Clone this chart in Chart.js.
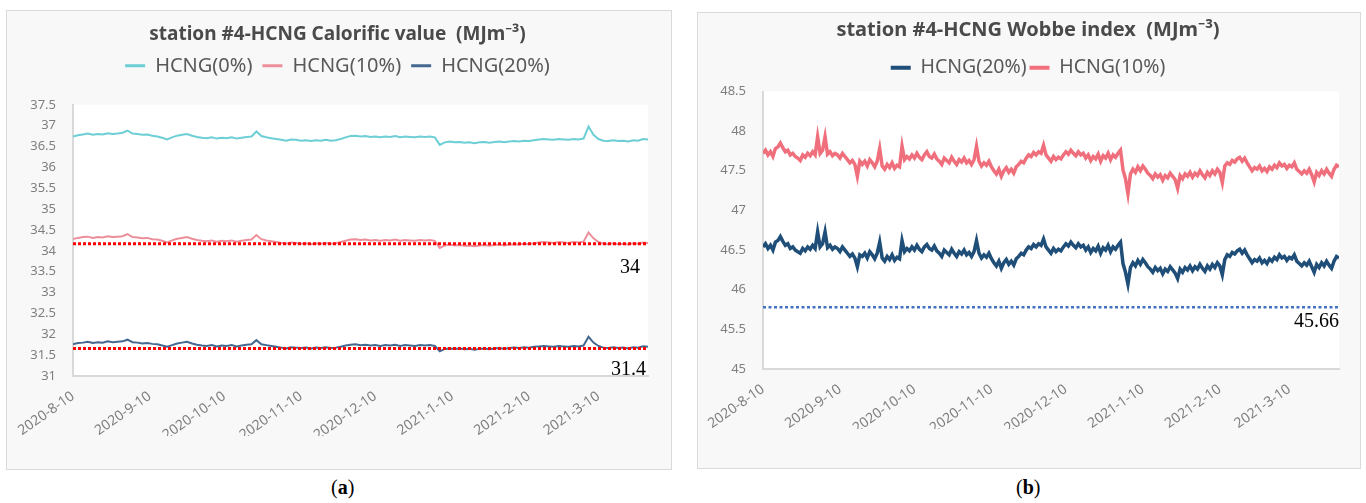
<!DOCTYPE html>
<html><head><meta charset="utf-8">
<script src="https://cdn.jsdelivr.net/npm/chart.js@4/dist/chart.umd.min.js"></script>
<style>
html,body{margin:0;padding:0;background:#fff;width:1366px;height:503px;overflow:hidden;font-family:"Noto Sans",sans-serif;}
.panel{position:absolute;box-sizing:border-box;border:1px solid #dadada;background:#f8f8f8;}
#pa{left:6px;top:10px;width:666px;height:460px;}
#pb{left:697px;top:12px;width:664px;height:457px;}
.panel canvas{display:block;}
.cap{position:absolute;top:474px;line-height:26px;font-family:"Liberation Serif",serif;font-size:20px;color:#000;}
</style></head><body>
<div class="panel" id="pa"><canvas id="ca" width="664" height="458"></canvas></div>
<div class="panel" id="pb"><canvas id="cb" width="662" height="455"></canvas></div>
<div class="cap" style="left:331px">(<b>a</b>)</div>
<div class="cap" style="left:1016px">(<b>b</b>)</div>
<script>
const tickLabels = ['2020-8-10','2020-9-10','2020-10-10','2020-11-10','2020-12-10','2021-1-10','2021-2-10','2021-3-10'];
const tickDays = [0,31,61,92,122,153,184,212];

const calorificStepDays = 2;
const calorific0 = [
36.74,36.77,36.79,36.81,36.78,36.80,36.79,36.82,36.80,36.81,
36.83,36.88,36.81,36.80,36.78,36.79,36.76,36.74,36.71,36.67,
36.72,36.76,36.78,36.80,36.76,36.73,36.71,36.70,36.72,36.69,
36.71,36.70,36.72,36.69,36.71,36.73,36.74,36.86,36.75,36.72,
36.70,36.68,36.66,36.64,36.67,36.66,36.64,36.65,36.63,36.65,
36.64,36.66,36.64,36.65,36.68,36.72,36.75,36.76,36.74,36.75,
36.73,36.74,36.72,36.74,36.73,36.75,36.72,36.74,36.73,36.72,
36.74,36.73,36.74,36.72,36.54,36.60,36.62,36.60,36.61,36.59,
36.60,36.58,36.60,36.61,36.59,36.61,36.62,36.60,36.62,36.63,
36.62,36.64,36.63,36.65,36.67,36.68,36.67,36.66,36.68,36.67,
36.66,36.68,36.67,36.69,36.98,36.78,36.68,36.64,36.63,36.65,
36.63,36.64,36.62,36.65,36.64,36.68,36.67];
const calorific10 = [
34.28,34.31,34.33,34.34,34.31,34.33,34.32,34.35,34.33,34.34,
34.35,34.40,34.33,34.32,34.30,34.31,34.28,34.27,34.24,34.20,
34.25,34.29,34.31,34.33,34.29,34.26,34.24,34.23,34.25,34.22,
34.24,34.23,34.25,34.22,34.24,34.26,34.27,34.38,34.28,34.25,
34.23,34.21,34.19,34.17,34.20,34.19,34.17,34.18,34.16,34.18,
34.17,34.19,34.17,34.18,34.21,34.24,34.27,34.28,34.26,34.27,
34.25,34.26,34.24,34.26,34.25,34.27,34.24,34.26,34.25,34.24,
34.26,34.25,34.26,34.24,34.07,34.13,34.15,34.13,34.14,34.12,
34.13,34.11,34.13,34.14,34.12,34.14,34.15,34.13,34.15,34.16,
34.15,34.17,34.16,34.18,34.20,34.21,34.20,34.19,34.21,34.20,
34.19,34.21,34.20,34.22,34.44,34.30,34.21,34.17,34.16,34.18,
34.16,34.17,34.15,34.18,34.17,34.20,34.19];
const calorific20 = [
31.76,31.79,31.80,31.82,31.79,31.81,31.80,31.83,31.81,31.82,
31.83,31.87,31.81,31.80,31.78,31.79,31.77,31.76,31.73,31.70,
31.74,31.78,31.80,31.82,31.78,31.75,31.73,31.72,31.74,31.71,
31.73,31.72,31.74,31.71,31.73,31.75,31.76,31.86,31.76,31.74,
31.72,31.70,31.68,31.66,31.69,31.68,31.67,31.68,31.66,31.68,
31.67,31.69,31.67,31.68,31.70,31.73,31.75,31.76,31.74,31.75,
31.73,31.74,31.72,31.74,31.73,31.75,31.72,31.74,31.73,31.72,
31.74,31.73,31.74,31.72,31.59,31.65,31.66,31.65,31.66,31.64,
31.65,31.63,31.65,31.66,31.64,31.66,31.67,31.65,31.67,31.68,
31.67,31.69,31.68,31.70,31.71,31.72,31.71,31.70,31.72,31.71,
31.70,31.72,31.71,31.73,31.94,31.80,31.72,31.68,31.67,31.69,
31.67,31.68,31.66,31.69,31.68,31.71,31.70];
const calorificLimits = [34.17, 31.66];
const calorificLimitLabels = ['34', '31.4'];

const wobbeStepDays = 1;
const wobbe20 = [
46.54,46.58,46.52,46.56,46.50,46.60,46.62,46.67,46.61,46.56,
46.58,46.52,46.54,46.50,46.48,46.46,46.52,46.49,46.54,46.51,
46.56,46.52,46.73,46.54,46.58,46.73,46.53,46.56,46.51,46.54,
46.52,46.48,46.54,46.50,46.46,46.42,46.45,46.40,46.29,46.44,
46.42,46.46,46.40,46.48,46.44,46.39,46.46,46.60,46.40,46.36,
46.42,46.38,46.44,46.37,46.41,46.39,46.62,46.48,46.52,46.49,
46.54,46.50,46.56,46.51,46.48,46.54,46.57,46.52,46.50,46.55,
46.49,46.46,46.42,46.50,46.47,46.44,46.51,46.46,46.42,46.48,
46.45,46.50,46.44,46.47,46.42,46.48,46.62,46.46,46.40,46.44,
46.41,46.46,46.39,46.34,46.30,46.36,46.27,46.34,46.38,46.32,
46.36,46.31,46.39,46.42,46.46,46.44,46.50,46.54,46.52,46.57,
46.54,46.58,46.56,46.64,46.54,46.50,46.46,46.52,46.48,46.51,
46.49,46.54,46.58,46.55,46.60,46.56,46.53,46.58,46.54,46.56,
46.50,46.54,46.47,46.52,46.49,46.55,46.46,46.53,46.50,46.56,
46.48,46.54,46.51,46.56,46.60,46.33,46.22,46.07,46.28,46.34,
46.30,46.37,46.32,46.38,46.34,46.29,46.26,46.22,46.28,46.24,
46.27,46.20,46.26,46.23,46.29,46.25,46.21,46.14,46.26,46.22,
46.28,46.25,46.30,46.24,46.29,46.26,46.32,46.27,46.23,46.30,
46.26,46.32,46.28,46.34,46.30,46.19,46.38,46.44,46.42,46.47,
46.45,46.49,46.51,46.46,46.50,46.44,46.39,46.34,46.38,46.36,
46.40,46.34,46.37,46.33,46.39,46.36,46.41,46.38,46.44,46.40,
46.42,46.37,46.41,46.39,46.44,46.36,46.33,46.30,46.34,46.31,
46.36,46.29,46.22,46.32,46.28,46.34,46.30,46.36,46.31,46.27,
46.36,46.42,46.40];
const wobbe10 = [
47.72,47.76,47.70,47.74,47.68,47.78,47.80,47.85,47.79,47.74,
47.76,47.70,47.72,47.68,47.66,47.63,47.70,47.67,47.72,47.69,
47.74,47.70,47.93,47.72,47.76,47.93,47.71,47.74,47.69,47.72,
47.70,47.66,47.72,47.68,47.64,47.60,47.63,47.58,47.43,47.62,
47.58,47.62,47.56,47.64,47.60,47.55,47.62,47.78,47.56,47.52,
47.58,47.54,47.60,47.53,47.57,47.55,47.81,47.64,47.68,47.65,
47.70,47.66,47.72,47.67,47.64,47.70,47.74,47.68,47.66,47.71,
47.65,47.62,47.58,47.66,47.63,47.60,47.67,47.62,47.58,47.64,
47.61,47.66,47.60,47.63,47.58,47.64,47.81,47.62,47.56,47.60,
47.57,47.62,47.55,47.50,47.46,47.52,47.43,47.50,47.54,47.48,
47.52,47.47,47.55,47.58,47.62,47.60,47.66,47.70,47.68,47.73,
47.70,47.74,47.72,47.82,47.70,47.66,47.62,47.68,47.64,47.67,
47.65,47.70,47.74,47.71,47.76,47.72,47.69,47.74,47.70,47.72,
47.66,47.70,47.63,47.68,47.65,47.71,47.62,47.69,47.66,47.72,
47.64,47.70,47.67,47.72,47.76,47.51,47.40,47.21,47.46,47.52,
47.48,47.55,47.50,47.56,47.52,47.47,47.44,47.40,47.46,47.42,
47.45,47.38,47.44,47.41,47.47,47.43,47.39,47.28,47.44,47.40,
47.46,47.43,47.48,47.42,47.47,47.44,47.50,47.45,47.41,47.48,
47.44,47.50,47.46,47.52,47.48,47.35,47.56,47.60,47.58,47.63,
47.61,47.65,47.67,47.62,47.66,47.60,47.55,47.50,47.54,47.52,
47.56,47.50,47.53,47.49,47.55,47.52,47.57,47.54,47.60,47.56,
47.58,47.53,47.57,47.55,47.60,47.52,47.49,47.46,47.50,47.47,
47.52,47.45,47.36,47.48,47.44,47.50,47.46,47.52,47.47,47.43,
47.52,47.57,47.55];
const wobbeLimits = [45.78];
const wobbeLimitLabels = ['45.66'];

Chart.defaults.font.family = '"Noto Sans", sans-serif';
Chart.defaults.animation = false;

function toPoints(values, step) { return values.map((v, i) => ({x: i * step, y: v})); }
function limitPoints(v, lastX) { return [{x: 0, y: v}, {x: lastX, y: v}]; }

const plotBg = {
  id: 'plotBg',
  beforeDraw(chart) {
    const {ctx, chartArea: a} = chart;
    ctx.save(); ctx.fillStyle = '#ffffff';
    ctx.fillRect(a.left, a.top, a.right - a.left, a.bottom - a.top);
    ctx.restore();
  }
};
const limitLabelPlugin = {
  id: 'limitLabels',
  afterDatasetsDraw(chart, args, opts) {
    const {ctx, chartArea, scales: {y}} = chart;
    ctx.save();
    ctx.font = '20px "Liberation Serif", serif';
    ctx.fillStyle = '#000'; ctx.textAlign = 'right'; ctx.textBaseline = 'middle';
    opts.values.forEach((v, i) => {
      ctx.fillText(opts.labels[i], chartArea.right - opts.inset[i], y.getPixelForValue(v) + opts.offset[i]);
    });
    ctx.restore();
  }
};

function buildChart(id, o) {
  const lastX = o.lastX;
  const datasets = [];
  o.limits.forEach((v, i) => datasets.push({
    label: 'limit' + i, data: limitPoints(v, lastX), borderColor: o.limitColor, backgroundColor: o.limitColor,
    borderWidth: o.limitWidth, borderDash: o.limitDash, pointRadius: 0, fill: false, isLimit: true
  }));
  o.series.forEach(s => datasets.push({
    label: s.label, data: toPoints(s.values, o.step), borderColor: s.color, backgroundColor: s.color,
    borderWidth: o.lineWidth, pointRadius: 0, tension: 0, fill: false
  }));
  return new Chart(document.getElementById(id), {
    type: 'line',
    data: {datasets},
    plugins: [plotBg, limitLabelPlugin],
    options: {
      responsive: false,
      layout: {padding: o.padding},
      plugins: {
        tooltip: {enabled: false},
        title: {display: true, text: o.title, color: '#4a4a4a', font: {size: o.titleSize, weight: 'bold'}, padding: o.titlePad},
        subtitle: {display: true, text: '', weight: 500, font: {size: 1, lineHeight: 1}, padding: {top: o.spacer, bottom: 0}},
        legend: {
          display: true, position: 'top',
          labels: {
            color: '#595959', font: {size: o.legendSize}, boxWidth: 20, boxHeight: o.legendBoxH, padding: o.legendPad,
            filter: (item, data) => !data.datasets[item.datasetIndex].isLimit,
            generateLabels: ch => Chart.defaults.plugins.legend.labels.generateLabels(ch).map(l => Object.assign(l, {lineWidth: 0}))
          }
        },
        limitLabels: {values: o.limits, labels: o.limitLabels, offset: o.labelOffset, inset: o.labelInset}
      },
      scales: {
        x: {
          type: 'linear', min: 0, max: lastX,
          afterBuildTicks: s => { s.ticks = tickDays.map(v => ({value: v})); },
          afterFit: s => { s.height = 60; },
          ticks: {autoSkip: false, minRotation: 35, maxRotation: 35, color: '#7f7f7f', font: {size: 14}, padding: 4,
                  callback: (v, i) => tickLabels[i]},
          grid: {display: false},
          border: {display: true, color: '#d9d9d9', width: 2}
        },
        y: {
          min: o.yMin, max: o.yMax,
          afterFit: s => { s.width = 46; },
          ticks: {stepSize: 0.5, color: '#7f7f7f', font: {size: 13}, padding: 9, callback: v => String(v)},
          grid: {display: false},
          border: {display: true, color: '#d9d9d9', width: 2}
        }
      }
    }
  });
}

buildChart('ca', {
  title: 'station #4-HCNG Calorific value  (MJm\u207B\u00B3)', titleSize: 19,
  step: calorificStepDays, lastX: (calorific0.length - 1) * calorificStepDays,
  series: [
    {label: 'HCNG(0%)', values: calorific0, color: '#6dcfd5'},
    {label: 'HCNG(10%)', values: calorific10, color: '#ec8f9b'},
    {label: 'HCNG(20%)', values: calorific20, color: '#45688f'}
  ],
  limits: calorificLimits, limitLabels: calorificLimitLabels,
  limitColor: '#ff0000', limitWidth: 3, limitDash: [3, 2],
  labelOffset: [24, 21], labelInset: [8, 2],
  lineWidth: 2, legendBoxH: 3, legendPad: 10, legendSize: 20,
  titlePad: {top: 12, bottom: 0}, spacer: 18,
  padding: {left: 20, right: 23, top: 0, bottom: 33},
  yMin: 31, yMax: 37.5
});
buildChart('cb', {
  title: 'station #4-HCNG Wobbe index  (MJm\u207B\u00B3)', titleSize: 20,
  step: wobbeStepDays, lastX: (wobbe20.length - 1) * wobbeStepDays,
  series: [
    {label: 'HCNG(20%)', values: wobbe20, color: '#1f4e78'},
    {label: 'HCNG(10%)', values: wobbe10, color: '#ef707c'}
  ],
  limits: wobbeLimits, limitLabels: wobbeLimitLabels,
  limitColor: '#4472c4', limitWidth: 2.5, limitDash: [3, 2.5],
  labelOffset: [15], labelInset: [0],
  lineWidth: 3.5, legendBoxH: 4, legendPad: 3, legendSize: 19.5,
  titlePad: {top: 5, bottom: 13}, spacer: 3,
  padding: {left: 19, right: 21, top: 0, bottom: 39},
  yMin: 45, yMax: 48.5
});
</script>
</body></html>
